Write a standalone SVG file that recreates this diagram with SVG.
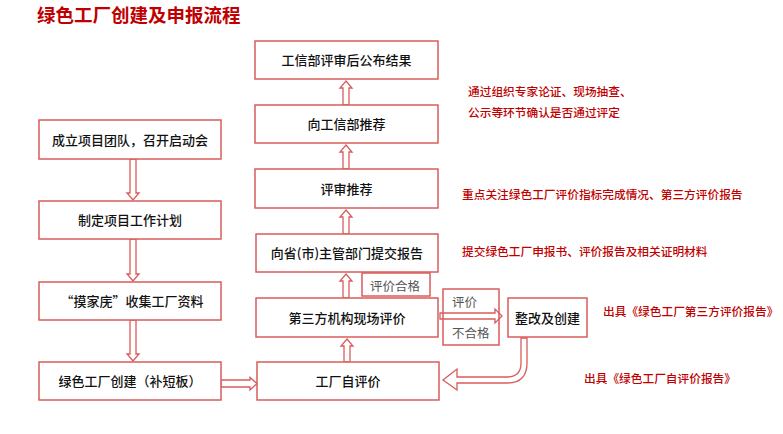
<svg xmlns="http://www.w3.org/2000/svg" width="783" height="434" viewBox="0 0 783 434">
<style>
.box{fill:#fff;stroke:#d95c5c;stroke-width:1.5}
.arr{fill:#fff;stroke:#d95c5c;stroke-width:1.3;stroke-linejoin:miter}
.t{font-family:"Noto Sans CJK SC","Noto Sans",sans-serif;font-size:13px;font-weight:500;fill:#111;text-anchor:middle}
.n{font-family:"Noto Sans CJK SC","Noto Sans",sans-serif;font-size:12.5px;fill:#555}
.r{font-family:"Noto Sans CJK SC","Noto Sans",sans-serif;font-size:11.7px;font-weight:500;fill:#c00000}
.title{font-family:"Noto Sans CJK SC","Noto Sans",sans-serif;font-size:18.5px;font-weight:bold;fill:#c00000}
</style>
<rect width="783" height="434" fill="#fff"/>
<text class="title" x="37" y="22">绿色工厂创建及申报流程</text>

<g id="connectors">
<path class="arr" d="M346,81 L352,88 L349,88 L349,105 L343,105 L343,88 L340,88 Z"/>
<path class="arr" d="M346,145 L352,152 L349,152 L349,169 L343,169 L343,152 L340,152 Z"/>
<path class="arr" d="M346,210 L352,217 L349,217 L349,234 L343,234 L343,217 L340,217 Z"/>
<path class="arr" d="M346,274 L352,281 L349,281 L349,298 L343,298 L343,281 L340,281 Z"/>
<path class="arr" d="M347,339 L353,346 L350,346 L350,362 L344,362 L344,346 L341,346 Z"/>
<path class="arr" d="M130,159 L136,159 L136,193 L139,193 L133,200 L127,193 L130,193 Z"/>
<path class="arr" d="M130,239 L136,239 L136,274 L139,274 L133,281 L127,274 L130,274 Z"/>
<path class="arr" d="M130,320 L136,320 L136,354 L139,354 L133,361 L127,354 L130,354 Z"/>
<path class="arr" d="M221,380 L250,380 L250,377.5 L257,383.5 L250,390 L250,387 L221,387 Z"/>
<path class="arr" d="M440,313 L495,313 L495,309 L502,316 L495,323 L495,319 L440,319 Z"/>
<path class="arr" d="M521,338 L527,338 L527,363 Q527,383 507,383 L457,383 L457,390 L443,380 L457,369 L457,377 L507,377 Q521,377 521,363 Z"/>
</g>

<g id="n-publish"><rect class="box" x="255" y="41" width="183" height="38"/><text class="t" x="346.5" y="65">工信部评审后公布结果</text></g>
<g id="n-recommend"><rect class="box" x="255" y="105" width="183" height="38"/><text class="t" x="346.5" y="129">向工信部推荐</text></g>
<g id="n-review"><rect class="box" x="255" y="169" width="183" height="39"/><text class="t" x="346.5" y="193.5">评审推荐</text></g>
<g id="n-submit"><rect class="box" x="256" y="234" width="182" height="38"/><text class="t" x="347" y="258">向省(市)主管部门提交报告</text></g>
<g id="n-pass"><rect class="box" x="362" y="273" width="68" height="23"/><text class="n" x="370" y="290.5">评价合格</text></g>
<g id="n-third"><rect class="box" x="256" y="298" width="182" height="39"/><text class="t" x="347" y="322.5">第三方机构现场评价</text></g>
<g id="n-fail"><rect class="box" x="443" y="289" width="56" height="56" style="fill:none"/><text class="n" x="452" y="306.5">评价</text><text class="n" x="452" y="337.5">不合格</text></g>
<g id="n-fix"><rect class="box" x="508" y="298" width="79" height="39"/><text class="t" x="547.5" y="322.5">整改及创建</text></g>
<g id="n-self"><rect class="box" x="257" y="362" width="182" height="38"/><text class="t" x="348" y="386">工厂自评价</text></g>
<g id="n-team"><rect class="box" x="39" y="120" width="182" height="39"/><text class="t" x="130" y="144.5">成立项目团队，召开启动会</text></g>
<g id="n-plan"><rect class="box" x="39" y="201" width="182" height="38"/><text class="t" x="130" y="225">制定项目工作计划</text></g>
<g id="n-collect"><rect class="box" x="39" y="282" width="182" height="38"/><text class="t" x="132" y="306">“摸家庑”收集工厂资料</text></g>
<g id="n-build"><rect class="box" x="39" y="362" width="182" height="38"/><text class="t" x="130" y="386">绿色工厂创建（补短板）</text></g>

<g id="notes">
<text class="r" x="468" y="96">通过组织专家论证、现场抽查、</text>
<text class="r" x="468" y="117">公示等环节确认是否通过评定</text>
<text class="r" x="462" y="199">重点关注绿色工厂评价指标完成情况、第三方评价报告</text>
<text class="r" x="462" y="256">提交绿色工厂申报书、评价报告及相关证明材料</text>
<text class="r" x="603" y="316">出具《绿色工厂第三方评价报告》</text>
<text class="r" x="584" y="383">出具《绿色工厂自评价报告》</text>
</g>
</svg>
